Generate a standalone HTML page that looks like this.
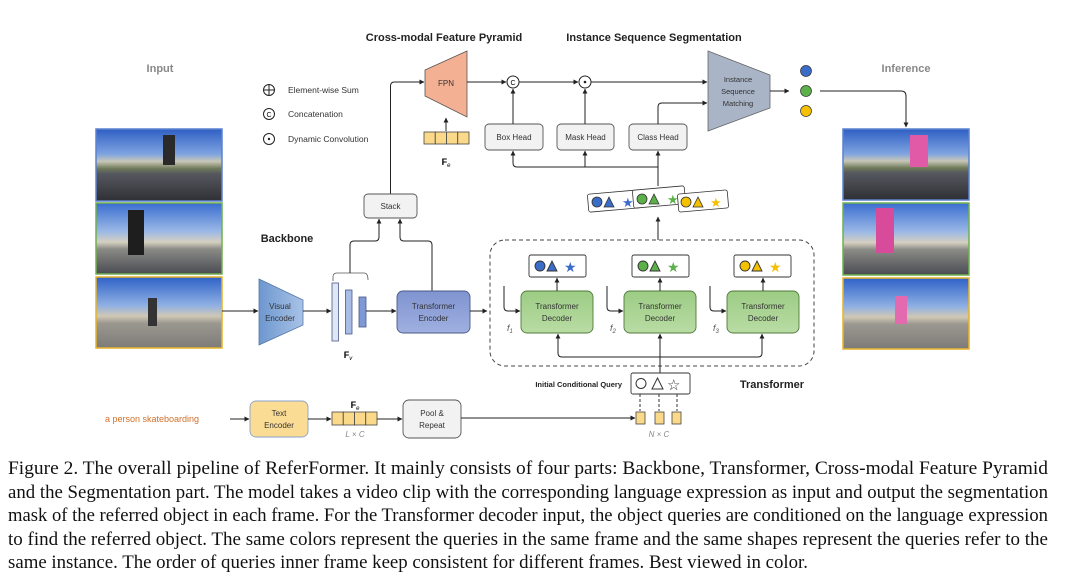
<!DOCTYPE html>
<html><head><meta charset="utf-8"><style>
html,body{margin:0;padding:0;background:#fff;}
svg{display:block;}
text{font-family:"Liberation Sans",sans-serif;}
.s{font-size:8.5px;fill:#333;}
.cap{font-family:"Liberation Serif",serif;font-size:19px;fill:#111;}
</style></head><body>
<svg width="1080" height="582" viewBox="0 0 1080 582" xmlns="http://www.w3.org/2000/svg">
<defs>
<marker id="a" viewBox="0 0 6 6" refX="5.5" refY="3" markerWidth="5" markerHeight="5" orient="auto"><path d="M0,0 L6,3 L0,6 z" fill="#222"/></marker>
<linearGradient id="sky" x1="0" y1="0" x2="0" y2="1">
<stop offset="0" stop-color="#2f5fc4"/><stop offset="0.35" stop-color="#7fa4e0"/><stop offset="0.45" stop-color="#c9c7b8"/><stop offset="0.55" stop-color="#6f7a5a"/><stop offset="0.62" stop-color="#55585e"/><stop offset="1" stop-color="#2f3036"/></linearGradient>
<linearGradient id="sky2" x1="0" y1="0" x2="0" y2="1">
<stop offset="0" stop-color="#3a6ed0"/><stop offset="0.4" stop-color="#9bb8e6"/><stop offset="0.55" stop-color="#d5d0c0"/><stop offset="0.65" stop-color="#8a8a86"/><stop offset="1" stop-color="#4a4b52"/></linearGradient>
<linearGradient id="sky3" x1="0" y1="0" x2="0" y2="1">
<stop offset="0" stop-color="#2f62c8"/><stop offset="0.4" stop-color="#8fb0e4"/><stop offset="0.55" stop-color="#cfc8b4"/><stop offset="0.65" stop-color="#9b9890"/><stop offset="1" stop-color="#7d7b78"/></linearGradient>
<linearGradient id="ve" x1="0" y1="0" x2="1" y2="0"><stop offset="0" stop-color="#6d97cf"/><stop offset="1" stop-color="#a8c3e6"/></linearGradient>
<linearGradient id="te" x1="0" y1="0" x2="0" y2="1"><stop offset="0" stop-color="#7f93d0"/><stop offset="1" stop-color="#9fb0e0"/></linearGradient>
<linearGradient id="td" x1="0" y1="0" x2="0" y2="1"><stop offset="0" stop-color="#9ccc84"/><stop offset="1" stop-color="#b9dca4"/></linearGradient>
</defs>

<text x="160" y="72" text-anchor="middle" font-size="11" font-weight="bold" fill="#888">Input</text>
<text x="906" y="72" text-anchor="middle" font-size="11" font-weight="bold" fill="#888">Inference</text>
<text x="444" y="41" text-anchor="middle" font-size="11" font-weight="bold" fill="#222">Cross-modal Feature Pyramid</text>
<text x="654" y="41" text-anchor="middle" font-size="11" font-weight="bold" fill="#222">Instance Sequence Segmentation</text>
<text x="287" y="242" text-anchor="middle" font-size="11" font-weight="bold" fill="#222">Backbone</text>
<text x="772" y="388" text-anchor="middle" font-size="11" font-weight="bold" fill="#222">Transformer</text>

<rect x="96" y="129" width="126" height="72" fill="url(#sky)" stroke="#5b82cf" stroke-width="1.5"/>
<rect x="96" y="203" width="126" height="71" fill="url(#sky2)" stroke="#6fb04f" stroke-width="1.5"/>
<rect x="96" y="277" width="126" height="71" fill="url(#sky3)" stroke="#e8b428" stroke-width="1.5"/>
<rect x="843" y="129" width="126" height="71" fill="url(#sky)" stroke="#5b82cf" stroke-width="1.5"/>
<rect x="843" y="203" width="126" height="72" fill="url(#sky2)" stroke="#6fb04f" stroke-width="1.5"/>
<rect x="843" y="278" width="126" height="71" fill="url(#sky3)" stroke="#e8b428" stroke-width="1.5"/>
<rect x="910" y="135" width="18" height="32" fill="#e05aa8"/>
<rect x="876" y="208" width="18" height="45" fill="#d84a9a"/>
<rect x="895" y="296" width="12" height="28" fill="#e46ab0"/>
<rect x="163" y="135" width="12" height="30" fill="#2a2a2a"/>
<rect x="128" y="210" width="16" height="45" fill="#1e1e1e"/>
<rect x="148" y="298" width="9" height="28" fill="#333"/>

<circle cx="269" cy="90" r="5.5" fill="#fff" stroke="#222"/><path d="M263.5,90H274.5M269,84.5V95.5" stroke="#222"/>
<text x="288" y="93" class="s">Element-wise Sum</text>
<circle cx="269" cy="114" r="5.5" fill="#fff" stroke="#222"/><text x="269" y="117" text-anchor="middle" font-size="7">C</text>
<text x="288" y="117" class="s">Concatenation</text>
<circle cx="269" cy="139" r="5.5" fill="#fff" stroke="#222"/><circle cx="269" cy="139" r="1.2" fill="#222"/>
<text x="288" y="142" class="s">Dynamic Convolution</text>

<path d="M390.5,194 V86 Q390.5,82 394.5,82 H424" fill="none" stroke="#222" marker-end="url(#a)"/>
<polygon points="425,70 467,51 467,117 425,96" fill="#f4b093" stroke="#555" stroke-width="0.8"/>
<text x="446" y="86" text-anchor="middle" font-size="8" fill="#333">FPN</text>
<g fill="#fbd98a" stroke="#444" stroke-width="0.8">
<rect x="424" y="132" width="11.25" height="12"/><rect x="435.25" y="132" width="11.25" height="12"/><rect x="446.5" y="132" width="11.25" height="12"/><rect x="457.75" y="132" width="11.25" height="12"/></g>
<line x1="446" y1="131" x2="446" y2="118" stroke="#222" marker-end="url(#a)"/>
<text x="446" y="165" text-anchor="middle" font-size="9" font-weight="bold" font-family="Liberation Serif">F<tspan font-size="6" font-style="italic" font-weight="normal" dy="2">e</tspan></text>

<line x1="467" y1="82" x2="506" y2="82" stroke="#222" marker-end="url(#a)"/>
<circle cx="513" cy="82" r="6" fill="#fff" stroke="#222"/><text x="513" y="85" text-anchor="middle" font-size="7">C</text>
<line x1="519" y1="82" x2="578" y2="82" stroke="#222" marker-end="url(#a)"/>
<circle cx="585" cy="82" r="6" fill="#fff" stroke="#222"/><circle cx="585" cy="82" r="1.3" fill="#222"/>
<line x1="591" y1="82" x2="707" y2="82" stroke="#222" marker-end="url(#a)"/>
<polygon points="708,51 770,75 770,108 708,131" fill="#a9b4c6" stroke="#666" stroke-width="0.8"/>
<text x="738" y="82" text-anchor="middle" font-size="7.5" fill="#333">Instance</text>
<text x="738" y="94" text-anchor="middle" font-size="7.5" fill="#333">Sequence</text>
<text x="738" y="106" text-anchor="middle" font-size="7.5" fill="#333">Matching</text>
<line x1="770" y1="91" x2="789" y2="91" stroke="#222" marker-end="url(#a)"/>
<circle cx="806" cy="71" r="5.5" fill="#3a6cc8" stroke="#333" stroke-width="0.7"/>
<circle cx="806" cy="91" r="5.5" fill="#5cb04a" stroke="#333" stroke-width="0.7"/>
<circle cx="806" cy="111" r="5.5" fill="#f5c000" stroke="#333" stroke-width="0.7"/>
<path d="M820,91 H901 Q906,91 906,96 V127" fill="none" stroke="#222" marker-end="url(#a)"/>

<g fill="#f2f2f2" stroke="#555" stroke-width="0.9">
<rect x="485" y="124" width="58" height="26" rx="4"/><rect x="557" y="124" width="57" height="26" rx="4"/><rect x="629" y="124" width="58" height="26" rx="4"/></g>
<text x="514" y="140" text-anchor="middle" font-size="8" fill="#333">Box Head</text>
<text x="585.5" y="140" text-anchor="middle" font-size="8" fill="#333">Mask Head</text>
<text x="658" y="140" text-anchor="middle" font-size="8" fill="#333">Class Head</text>
<line x1="513" y1="124" x2="513" y2="89" stroke="#222" marker-end="url(#a)"/>
<line x1="585" y1="124" x2="585" y2="89" stroke="#222" marker-end="url(#a)"/>
<path d="M658,124 V107 Q658,103 662,103 H707" fill="none" stroke="#222" marker-end="url(#a)"/>
<path d="M658,186 V167 H517 Q513,167 513,163 V151" fill="none" stroke="#222" marker-end="url(#a)"/>
<line x1="585" y1="167" x2="585" y2="151" stroke="#222" marker-end="url(#a)"/>
<line x1="658" y1="167" x2="658" y2="151" stroke="#222" marker-end="url(#a)"/>

<g stroke="#333" stroke-width="0.8">
<rect x="588" y="192" width="52" height="18" rx="2" fill="#fff" transform="rotate(-5 614 201)"/>
<circle cx="597" cy="202" r="5" fill="#3a6cc8"/><polygon points="604,207 609,197 614,207" fill="#3a6cc8"/><text x="622" y="207" font-size="13" fill="#3a6cc8" stroke="none">★</text>
<rect x="633" y="188" width="52" height="18" rx="2" fill="#fff" transform="rotate(-5 659 197)"/>
<circle cx="642" cy="199" r="5" fill="#5cb04a"/><polygon points="649,204 654,194 659,204" fill="#5cb04a"/><text x="667" y="204" font-size="13" fill="#5cb04a" stroke="none">★</text>
<rect x="678" y="192" width="50" height="18" rx="2" fill="#fff" transform="rotate(-5 703 201)"/>
<circle cx="686" cy="202" r="5" fill="#f5c000"/><polygon points="693,207 698,197 703,207" fill="#f5c000"/><text x="710" y="207" font-size="13" fill="#f5c000" stroke="none">★</text>
</g>

<line x1="222" y1="311" x2="258" y2="311" stroke="#222" marker-end="url(#a)"/>
<polygon points="259,279 303,300 303,325 259,345" fill="url(#ve)" stroke="#5577aa" stroke-width="0.8"/>
<text x="280" y="309" text-anchor="middle" font-size="8" fill="#333">Visual</text>
<text x="280" y="321" text-anchor="middle" font-size="8" fill="#333">Encoder</text>
<line x1="303" y1="311" x2="331" y2="311" stroke="#222" marker-end="url(#a)"/>
<rect x="332" y="283" width="6.5" height="58" fill="#dfe6f4" stroke="#4a5a8a" stroke-width="0.8"/>
<rect x="345.5" y="290" width="6.5" height="44" fill="#a9bde6" stroke="#4a5a8a" stroke-width="0.8"/>
<rect x="359" y="297" width="7" height="30" fill="#7f98d6" stroke="#4a5a8a" stroke-width="0.8"/>
<path d="M333,281 V277 Q333,273 337,273 H364 Q368,273 368,280" fill="none" stroke="#555" stroke-width="0.8"/>
<text x="348" y="358" text-anchor="middle" font-size="9" font-weight="bold" font-family="Liberation Serif">F<tspan font-size="6" font-style="italic" font-weight="normal" dy="2">v</tspan></text>
<path d="M350,273 V245 Q350,241 354,241 H375 Q379,241 379,237 V219" fill="none" stroke="#222" marker-end="url(#a)"/>
<path d="M432,291 V245 Q432,241 428,241 H404 Q400,241 400,237 V219" fill="none" stroke="#222" marker-end="url(#a)"/>
<rect x="364" y="194" width="53" height="24" rx="4" fill="#f2f2f2" stroke="#555" stroke-width="0.9"/>
<text x="390.5" y="209" text-anchor="middle" font-size="8" fill="#333">Stack</text>
<line x1="366" y1="311" x2="396" y2="311" stroke="#222" marker-end="url(#a)"/>
<rect x="397" y="291" width="73" height="42" rx="6" fill="url(#te)" stroke="#4a5a8a" stroke-width="0.9"/>
<text x="433.5" y="309" text-anchor="middle" font-size="8" fill="#333">Transformer</text>
<text x="433.5" y="321" text-anchor="middle" font-size="8" fill="#333">Encoder</text>
<line x1="470" y1="311" x2="487" y2="311" stroke="#222" marker-end="url(#a)"/>

<rect x="490" y="240" width="324" height="126" rx="15" fill="none" stroke="#444" stroke-dasharray="4,3"/>
<line x1="658" y1="240" x2="658" y2="217" stroke="#222" marker-end="url(#a)"/>
<g fill="url(#td)" stroke="#4e7a3a" stroke-width="0.9">
<rect x="521" y="291" width="72" height="42" rx="6"/><rect x="624" y="291" width="72" height="42" rx="6"/><rect x="727" y="291" width="72" height="42" rx="6"/></g>
<g font-size="8" fill="#333" text-anchor="middle">
<text x="557" y="309">Transformer</text><text x="557" y="321">Decoder</text>
<text x="660" y="309">Transformer</text><text x="660" y="321">Decoder</text>
<text x="763" y="309">Transformer</text><text x="763" y="321">Decoder</text></g>
<g stroke="#333" stroke-width="0.9">
<rect x="529" y="255" width="57" height="22" rx="2" fill="#fff"/>
<rect x="632" y="255" width="57" height="22" rx="2" fill="#fff"/>
<rect x="734" y="255" width="57" height="22" rx="2" fill="#fff"/>
<circle cx="540" cy="266" r="5" fill="#3a6cc8"/><polygon points="547,271 552,261 557,271" fill="#3a6cc8"/>
<circle cx="643" cy="266" r="5" fill="#5cb04a"/><polygon points="650,271 655,261 660,271" fill="#5cb04a"/>
<circle cx="745" cy="266" r="5" fill="#f5c000"/><polygon points="752,271 757,261 762,271" fill="#f5c000"/>
</g>
<text x="564" y="272" font-size="14" fill="#3a6cc8">★</text>
<text x="667" y="272" font-size="14" fill="#5cb04a">★</text>
<text x="769" y="272" font-size="14" fill="#f5c000">★</text>
<line x1="557" y1="291" x2="557" y2="278" stroke="#222" marker-end="url(#a)"/>
<line x1="660" y1="291" x2="660" y2="278" stroke="#222" marker-end="url(#a)"/>
<line x1="763" y1="291" x2="763" y2="278" stroke="#222" marker-end="url(#a)"/>
<g fill="none" stroke="#222">
<path d="M504,286 V307 Q504,311 508,311 H520" marker-end="url(#a)"/>
<path d="M607,286 V307 Q607,311 611,311 H623" marker-end="url(#a)"/>
<path d="M710,286 V307 Q710,311 714,311 H726" marker-end="url(#a)"/>
<path d="M660,373 V334" marker-end="url(#a)"/>
<path d="M660,357 H562 Q558,357 558,353 V334" marker-end="url(#a)"/>
<path d="M660,357 H758 Q762,357 762,353 V334" marker-end="url(#a)"/>
</g>
<g font-size="9" font-style="italic" font-family="Liberation Serif" fill="#555">
<text x="507" y="331">f<tspan font-size="6" dy="2">1</tspan></text>
<text x="610" y="331">f<tspan font-size="6" dy="2">2</tspan></text>
<text x="713" y="331">f<tspan font-size="6" dy="2">3</tspan></text></g>

<text x="622" y="387" text-anchor="end" font-size="7.5" font-weight="bold" fill="#222">Initial Conditional Query</text>
<rect x="631" y="373" width="59" height="21" rx="2" fill="#fff" stroke="#333" stroke-width="0.9"/>
<circle cx="641" cy="383.5" r="5" fill="#fff" stroke="#333"/>
<polygon points="652,389 657.5,378 663,389" fill="#fff" stroke="#333"/>
<text x="667" y="390" font-size="15" fill="#333">☆</text>
<g stroke="#333" stroke-dasharray="3,2"><line x1="640" y1="394" x2="640" y2="411"/><line x1="659" y1="394" x2="659" y2="411"/><line x1="677" y1="394" x2="677" y2="411"/></g>
<g fill="#fbd98a" stroke="#444" stroke-width="0.8"><rect x="636" y="412" width="9" height="12"/><rect x="655" y="412" width="9" height="12"/><rect x="672" y="412" width="9" height="12"/></g>
<text x="659" y="437" text-anchor="middle" font-size="8" font-style="italic" font-family="Liberation Serif" fill="#888">N × C</text>

<text x="105" y="422" font-size="9" fill="#d0702a">a person skateboarding</text>
<line x1="230" y1="419" x2="249" y2="419" stroke="#222" marker-end="url(#a)"/>
<rect x="250" y="401" width="58" height="36" rx="6" fill="#fbdc95" stroke="#8aa0c8" stroke-width="0.9"/>
<text x="279" y="416" text-anchor="middle" font-size="8" fill="#333">Text</text>
<text x="279" y="428" text-anchor="middle" font-size="8" fill="#333">Encoder</text>
<line x1="308" y1="419" x2="331" y2="419" stroke="#222" marker-end="url(#a)"/>
<g fill="#fbd98a" stroke="#444" stroke-width="0.8">
<rect x="332" y="412" width="11.25" height="13"/><rect x="343.25" y="412" width="11.25" height="13"/><rect x="354.5" y="412" width="11.25" height="13"/><rect x="365.75" y="412" width="11.25" height="13"/></g>
<text x="355" y="408" text-anchor="middle" font-size="9" font-weight="bold" font-family="Liberation Serif">F<tspan font-size="6" font-style="italic" font-weight="normal" dy="2">e</tspan></text>
<text x="355" y="437" text-anchor="middle" font-size="8" font-style="italic" font-family="Liberation Serif" fill="#888">L × C</text>
<line x1="377" y1="419" x2="402" y2="419" stroke="#222" marker-end="url(#a)"/>
<rect x="403" y="400" width="58" height="38" rx="6" fill="#f2f2f2" stroke="#555" stroke-width="0.9"/>
<text x="432" y="416" text-anchor="middle" font-size="8" fill="#333">Pool &amp;</text>
<text x="432" y="428" text-anchor="middle" font-size="8" fill="#333">Repeat</text>
<line x1="461" y1="418" x2="635" y2="418" stroke="#222" marker-end="url(#a)"/>

<text class="cap" x="8" y="474" textLength="1040" lengthAdjust="spacingAndGlyphs">Figure 2.  The overall pipeline of ReferFormer.  It mainly consists of four parts:  Backbone, Transformer, Cross-modal Feature Pyramid</text>
<text class="cap" x="8" y="498" textLength="1040" lengthAdjust="spacingAndGlyphs">and the Segmentation part. The model takes a video clip with the corresponding language expression as input and output the segmentation</text>
<text class="cap" x="8" y="521" textLength="1040" lengthAdjust="spacingAndGlyphs">mask of the referred object in each frame. For the Transformer decoder input, the object queries are conditioned on the language expression</text>
<text class="cap" x="8" y="545" textLength="1040" lengthAdjust="spacingAndGlyphs">to find the referred object.  The same colors represent the queries in the same frame and the same shapes represent the queries refer to the</text>
<text class="cap" x="8" y="568" textLength="800" lengthAdjust="spacingAndGlyphs">same instance. The order of queries inner frame keep consistent for different frames. Best viewed in color.</text>
</svg>
</body></html>
